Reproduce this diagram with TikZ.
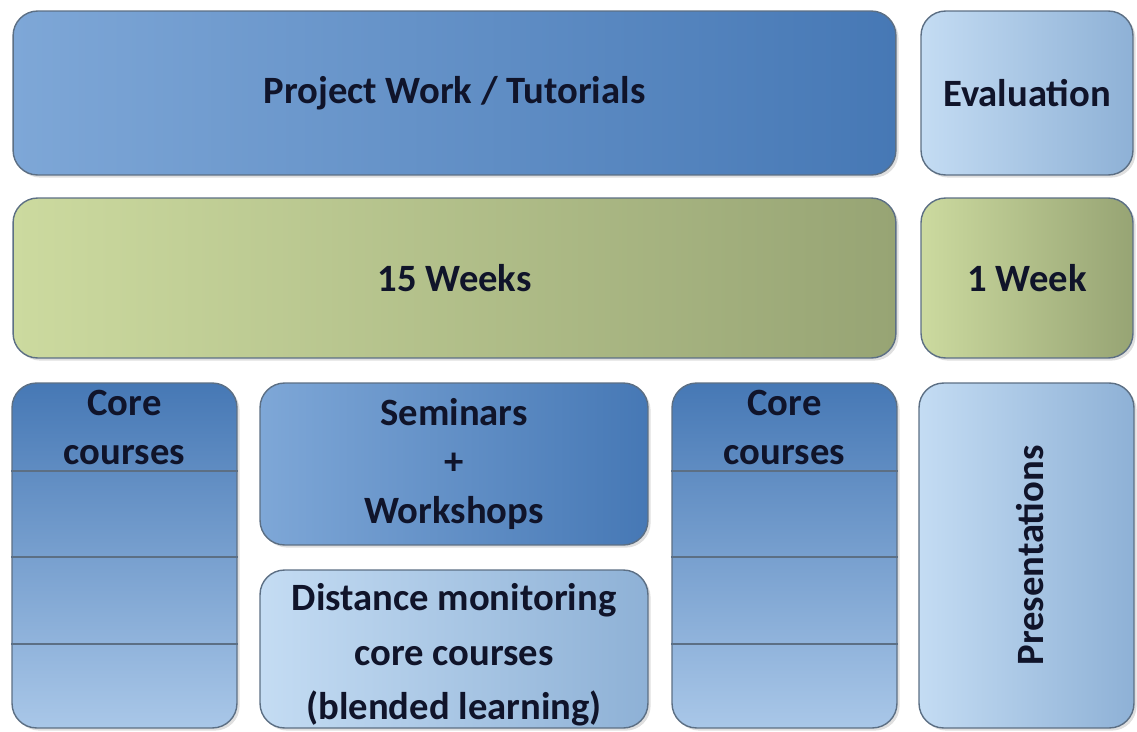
\documentclass[tikz,border=0pt]{standalone}
\usepackage{fontspec}
\setmainfont{Carlito}
\usepackage{tikz}
\usetikzlibrary{positioning,shadows}

\definecolor{edge}{HTML}{5C6F84}
\definecolor{ink}{HTML}{10142A}
\definecolor{blueD}{HTML}{4678B5}
\definecolor{blueM}{HTML}{7EA7D7}
\definecolor{blueL}{HTML}{A9C7E8}
\definecolor{skyL}{HTML}{C4DCF3}
\definecolor{skyD}{HTML}{8EB1D6}
\definecolor{greenL}{HTML}{CCDA9F}
\definecolor{greenD}{HTML}{97A474}

\tikzset{
  box/.style={draw=edge, line width=0.8pt, rounded corners=14pt, inner sep=0pt,
    font=\bfseries\fontsize{22}{28}\selectfont, text=ink, align=center,
    drop shadow={opacity=0.25, shadow xshift=1.5pt, shadow yshift=-1.5pt}},
  bluebox/.style={box, left color=blueM, middle color=blueL, right color=blueD},
  corebox/.style={box, top color=blueD, bottom color=blueL},
  skybox/.style={box, left color=skyL, middle color=skyL, right color=skyD},
  greenbox/.style={box, left color=greenL, right color=greenD},
  label/.style={font=\bfseries\fontsize{22}{28}\selectfont, text=ink, align=center}
}

\begin{document}
\begin{tikzpicture}[x=0.02cm, y=-0.02cm]
    \useasboundingbox (0,0) rectangle (1137,731);
    % top two rows
    \node (proj) [bluebox, minimum width=17.66cm, minimum height=3.28cm] at (454.5,93) {Project Work / Tutorials};
    \node (eval) [skybox, minimum width=4.24cm, minimum height=3.28cm] at (1027,93) {Evaluation};
    \node (weeks) [greenbox, minimum width=17.66cm, minimum height=3.2cm] at (454.5,278) {15 Weeks};
    \node (week) [greenbox, minimum width=4.24cm, minimum height=3.2cm] at (1027,278) {1 Week};
    % bottom row
    \node (coreA) [corebox, minimum width=4.5cm, minimum height=6.9cm] at (124.5,555.5) {};
    \node (sem) [bluebox, minimum width=7.76cm, minimum height=3.24cm] at (454,464) {Seminars\\+\\Workshops};
    \node (dist) [skybox, minimum width=7.76cm, minimum height=3.16cm] at (454,649) {};
    \node (distT) [label, font=\bfseries\fontsize{22}{31}\selectfont] at (454,655) {Distance monitoring\\core courses\\(blended learning)};
    \node (coreB) [corebox, minimum width=4.5cm, minimum height=6.9cm] at (784.5,555.5) {};
    \node (pres) [skybox, minimum width=4.3cm, minimum height=6.9cm] at (1026.5,555.5) {};
    \node (presT) [label, rotate=90, yshift=-2pt] at (pres.center) {Presentations};
    % core course slots
    \node (coreAT) [label, below=1pt of coreA.north] {Core\\courses};
    \node (coreBT) [label, below=1pt of coreB.north] {Core\\courses};
    \foreach \y in {471,557,644} {
        \draw [edge, line width=0.8pt] (coreA.west |- 0,\y) -- (coreA.east |- 0,\y);
        \draw [edge, line width=0.8pt] (coreB.west |- 0,\y) -- (coreB.east |- 0,\y);
    }
\end{tikzpicture}
\end{document}
